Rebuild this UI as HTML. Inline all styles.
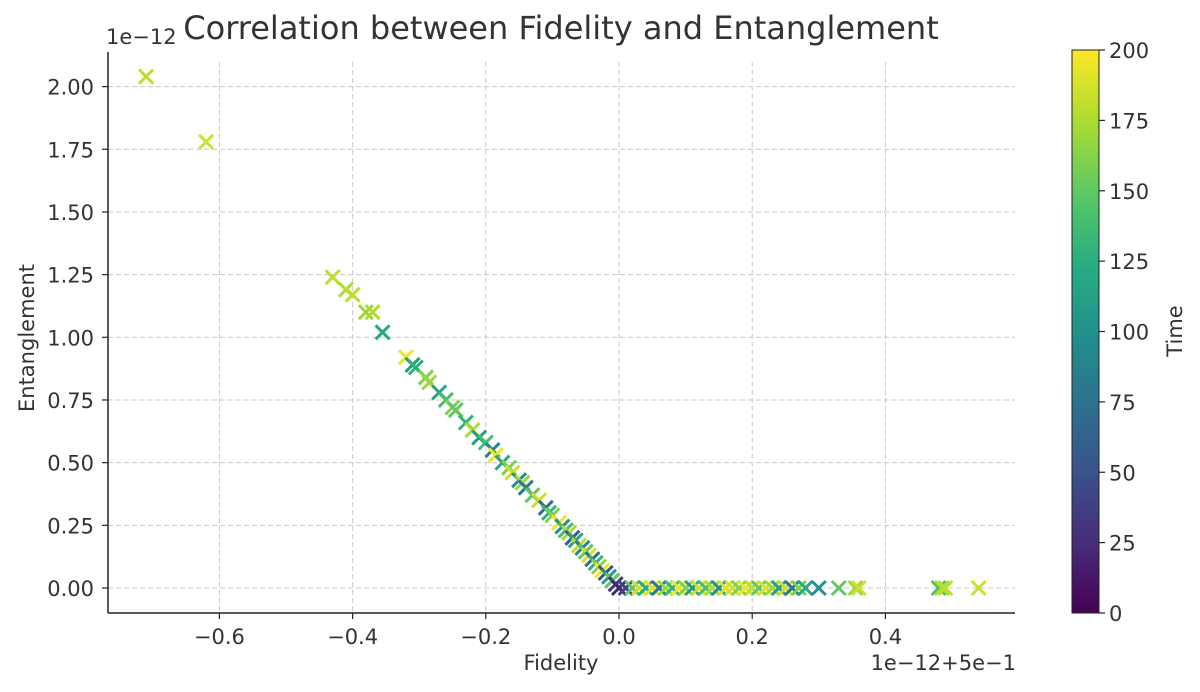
<!DOCTYPE html>
<html><head><meta charset="utf-8"><style>
html,body{margin:0;padding:0;background:#fff;}
svg{display:block;font-family:"DejaVu Sans","Liberation Sans",sans-serif;}
</style></head><body>
<svg id="chart" width="1200" height="692" viewBox="0 0 1200 692" xmlns="http://www.w3.org/2000/svg">
<defs><linearGradient id="vir" x1="0" y1="1" x2="0" y2="0">
<stop offset="0" stop-color="#440154"/><stop offset="0.125" stop-color="#472d7b"/><stop offset="0.25" stop-color="#3b528b"/><stop offset="0.375" stop-color="#2c728e"/><stop offset="0.5" stop-color="#21918c"/><stop offset="0.625" stop-color="#28ae80"/><stop offset="0.75" stop-color="#5ec962"/><stop offset="0.875" stop-color="#addc30"/><stop offset="1" stop-color="#fde725"/>
</linearGradient></defs>
<g id="grid"></g>
<g id="marks"></g>
<g id="axes"></g>
<text x="561" y="39" text-anchor="middle" font-size="32" fill="#333">Correlation between Fidelity and Entanglement</text>
<text x="106" y="44" font-size="21" fill="#333">1e−12</text>
<text x="1016" y="670" text-anchor="end" font-size="21" fill="#333">1e−12+5e−1</text>
<text x="561" y="670" text-anchor="middle" font-size="21" fill="#333">Fidelity</text>
<text transform="translate(34,338) rotate(-90)" text-anchor="middle" font-size="21" fill="#333">Entanglement</text>
<rect x="1072" y="50" width="27" height="563" fill="url(#vir)" stroke="#222" stroke-width="1"/>
<g id="cbticks"></g>
<text transform="translate(1182,331) rotate(-90)" text-anchor="middle" font-size="21" fill="#333">Time</text>
</svg>
<script>
const xTicks=[-0.6,-0.4,-0.2,0.0,0.2,0.4];
const xTickLabels=["−0.6","−0.4","−0.2","0.0","0.2","0.4"];
const yTicks=[0,0.25,0.5,0.75,1.0,1.25,1.5,1.75,2.0];
const yTickLabels=["0.00","0.25","0.50","0.75","1.00","1.25","1.50","1.75","2.00"];
const cbTicks=[0,25,50,75,100,125,150,175,200];
const fidelity=[-0.71,-0.62,-0.43,-0.41,-0.40,-0.38,-0.37,-0.355,-0.32,-0.31,-0.305,-0.29,-0.285,-0.27,-0.26,-0.25,-0.245,-0.23,-0.22,-0.21,-0.20,-0.19,-0.185,-0.175,-0.165,-0.16,-0.15,-0.145,-0.14,-0.13,-0.12,-0.11,-0.105,-0.10,-0.09,-0.085,-0.08,-0.075,-0.07,-0.065,-0.06,-0.055,-0.05,-0.045,-0.04,-0.035,-0.03,-0.025,-0.02,-0.015,-0.01,-0.005,0,
0.01,0.02,0.03,0.04,0.05,0.06,0.07,0.08,0.09,0.10,0.11,0.12,0.13,0.14,0.15,0.16,0.17,0.18,0.19,0.20,0.21,0.22,0.23,0.24,0.25,0.26,0.27,0.28,0.30,0.33,0.355,0.36,0.48,0.485,0.49,0.54];
const entanglement=[2.04,1.78,1.24,1.19,1.17,1.10,1.10,1.02,0.92,0.89,0.88,0.84,0.82,0.78,0.75,0.72,0.71,0.66,0.63,0.60,0.58,0.55,0.53,0.50,0.48,0.46,0.43,0.42,0.40,0.37,0.35,0.32,0.30,0.29,0.26,0.245,0.23,0.22,0.20,0.19,0.17,0.16,0.145,0.13,0.115,0.10,0.085,0.07,0.06,0.045,0.03,0.015,0,
0,0,0,0,0,0,0,0,0,0,0,0,0,0,0,0,0,0,0,0,0,0,0,0,0,0,0,0,0,0,0,0,0,0,0,0];
const time=[180,185,180,175,180,170,175,120,195,110,130,160,170,120,140,160,150,130,175,110,140,90,195,120,160,185,100,170,80,150,185,70,130,160,195,100,140,175,60,120,180,90,150,190,70,130,165,195,50,110,150,30,20,
40,150,185,120,190,80,170,130,195,160,110,185,140,175,100,190,185,160,195,180,150,190,170,110,185,80,160,120,100,150,170,185,140,175,180,185];
const NS='http://www.w3.org/2000/svg';
const L=108,R=1015,B=613,T=62;
const xs=v=>619+v*666;
const ys=v=>588-v*250.7;
const cbY=v=>613-(v/200)*563;
const vir=[[68,1,84],[71,45,123],[59,82,139],[44,114,142],[33,145,140],[40,174,128],[94,201,98],[173,220,48],[253,231,37]];
function cmap(t){t=Number(t);if(!isFinite(t))t=150;let f=Math.max(0,Math.min(1,t/200))*8,i=Math.min(7,Math.floor(f)),r=f-i;const a=vir[i],b=vir[i+1];return 'rgb('+a.map((c,k)=>Math.round(c+(b[k]-c)*r)).join(',')+')';}
function mk(tag,attrs,parent){const e=document.createElementNS(NS,tag);for(const k in attrs)e.setAttribute(k,attrs[k]);parent.appendChild(e);return e;}
const grid=document.getElementById('grid'),axes=document.getElementById('axes'),marks=document.getElementById('marks'),cbt=document.getElementById('cbticks');
xTicks.forEach((v,i)=>{const x=xs(v);
const g=mk('line',{x1:x,x2:x,y1:T,y2:B,stroke:'#c8c8c8','stroke-dasharray':'5,3','stroke-width':1},grid);


const t=mk('line',{x1:x,x2:x,y1:B,y2:B+6,stroke:'#222','stroke-width':1.2},axes);


const l=mk('text',{x:x,y:B+31,'text-anchor':'middle','font-size':21,fill:'#333'},axes);l.textContent=xTickLabels[i];

});
yTicks.forEach((v,i)=>{const y=ys(v);
const g=mk('line',{x1:L,x2:R,y1:y,y2:y,stroke:'#c8c8c8','stroke-dasharray':'5,3','stroke-width':1},grid);


const t=mk('line',{x1:L-6,x2:L,y1:y,y2:y,stroke:'#222','stroke-width':1.2},axes);


const l=mk('text',{x:L-14,y:y+8,'text-anchor':'end','font-size':21,fill:'#333'},axes);l.textContent=yTickLabels[i];

});
const sp1=mk('line',{x1:L,x2:L,y1:T-10,y2:B,stroke:'#222','stroke-width':1.5},axes);


const sp2=mk('line',{x1:L,x2:R,y1:B,y2:B,stroke:'#222','stroke-width':1.5},axes);


fidelity.forEach((v,i)=>{const x=xs(v),y=ys(entanglement[i]||0),s=7,c=cmap(time[i]);
const p=mk('path',{d:`M${x-s},${y-s}L${x+s},${y+s}M${x-s},${y+s}L${x+s},${y-s}`,stroke:c,'stroke-width':3,fill:'none'},marks);

});
cbTicks.forEach(v=>{const y=cbY(v);
const t=mk('line',{x1:1099,x2:1105,y1:y,y2:y,stroke:'#222','stroke-width':1.2},cbt);


const l=mk('text',{x:1109,y:y+8,'font-size':21,fill:'#333'},cbt);l.textContent=String(v);

});
</script>
</body></html>
